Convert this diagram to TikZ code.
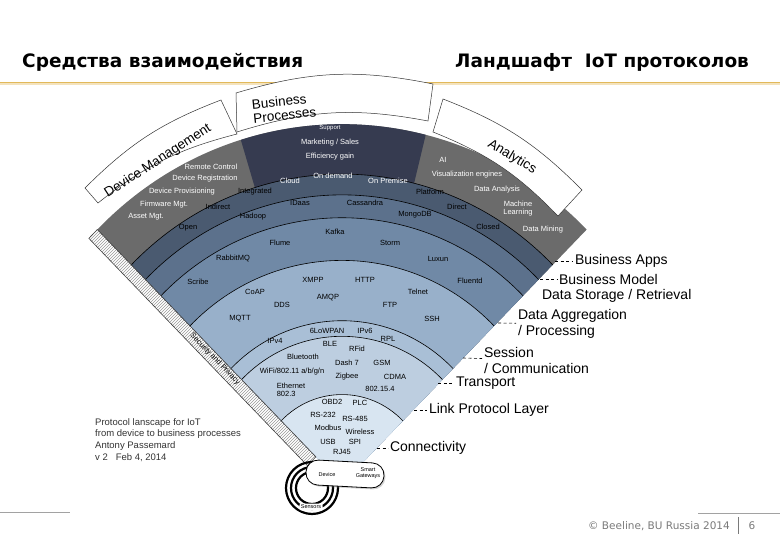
\documentclass[tikz,border=0pt]{standalone}
\usepackage{fontspec}
\setmainfont{Liberation Sans}
\newfontfamily\headfont{DejaVu Sans}
\usetikzlibrary{patterns,shadows}

\definecolor{bandgray}{HTML}{6B6B6B}
\definecolor{bandnavy}{HTML}{363B50}
\definecolor{bandmodel}{HTML}{4A5A70}
\definecolor{bandstore}{HTML}{5C718C}
\definecolor{bandaggr}{HTML}{7089A6}
\definecolor{bandsess}{HTML}{98B0CA}
\definecolor{bandtrans}{HTML}{A9BFD6}
\definecolor{bandlink}{HTML}{BDCEE0}
\definecolor{bandconn}{HTML}{D8E5F1}
\definecolor{titlegold}{HTML}{E2B95A}
\definecolor{footgray}{HTML}{7A7A7A}

\tikzset{
  headline/.style={font=\headfont\bfseries\fontsize{18.5}{21}\selectfont, inner sep=0pt},
  fantext/.style={font=\fontsize{7.5}{8}\selectfont, inner sep=0pt, align=center},
  lighttext/.style={fantext, text=white},
  tinytext/.style={fantext, font=\fontsize{5.5}{6}\selectfont},
  layer/.style={font=\fontsize{14}{16}\selectfont, inner sep=0pt, outer sep=2pt, align=left},
  leader/.style={dash pattern=on 3pt off 2.5pt, line width=0.6pt},
  ring/.style={line width=0.6pt},
  strip/.style={draw=black!75, line width=0.6pt, fill=white, pattern=north east lines, pattern color=black!40},
  labelbox/.style={draw=black!80, fill=white, line width=0.5pt},
  boxtext/.style={font=\fontsize{13.5}{14}\selectfont, inner sep=0pt, align=left},
  note/.style={font=\fontsize{9.5}{11.7}\selectfont, inner sep=0pt, align=left, text=black!80},
  foot/.style={font=\headfont\fontsize{10.5}{12}\selectfont, text=footgray, inner sep=0pt},
}

\begin{document}
\begin{tikzpicture}[x=1pt, y=-1pt]
\useasboundingbox (0,0) rectangle (780,540);

% header
\node[headline, anchor=base west] (title) at (22,68) {Средства взаимодействия};
\node[headline, anchor=base west] (subtitle) at (455,68) {Ландшафт\ \ IoT протоколов};
\draw[titlegold!40, line width=2pt] (0,84.5) -- (780,84.5);
\draw[titlegold, line width=1.5pt] (0,82.5) -- (780,82.5);

% fan, centred on the apex
\begin{scope}[shift={(342,484)}, yscale=-1.04]
  \foreach \r/\c in {346/bandgray, 298/bandmodel, 278/bandstore, 256/bandaggr,
                     215/bandsess, 157/bandtrans, 142/bandlink, 86/bandconn}
    \fill[\c] (0,0) -- (45:\r) arc[start angle=45, end angle=135, radius=\r] -- cycle;
  \fill[bandnavy] (76:298) arc[start angle=76, end angle=107, radius=298]
    -- (107:346) arc[start angle=107, end angle=76, radius=346] -- cycle;
  \foreach \r in {298, 278, 256, 215, 157, 142, 86}
    \draw[ring] (45:\r) arc[start angle=45, end angle=135, radius=\r];
  % security strip
  \draw[strip] (135:37) -- (135:346) -- ++(225:12) -- ++(-45:309) -- cycle;
\end{scope}
\node[fantext, rotate=-46] (security) at (215,359) {Security and Privacy};

% label boxes round the fan
\draw[labelbox] (98,203) to[bend left=12] (237,134) -- (221,100) to[bend right=12] (85,188) -- cycle;
\draw[labelbox] (237,132) to[bend left=14] (428,121) -- (433,84) to[bend right=14] (236,93) -- cycle;
\draw[labelbox] (433,132) to[bend left=12] (558,216) -- (582,190) to[bend right=12] (443,99) -- cycle;
\node[boxtext, rotate=33] (devmgmt) at (158,161) {Device Management};
\node[boxtext, rotate=6] (busproc) at (284,108) {Business\\Processes};
\node[boxtext, rotate=-31] (analytics) at (512,157) {Analytics};

% band entries
\foreach \n/\x/\y/\t in {remote/211/167/Remote Control, devreg/205/179/Device Registration,
    devprov/182/192/Device Provisioning, firmware/164/205/Firmware Mgt., asset/146/217/Asset Mgt.,
    marketing/330/143/{Marketing / Sales}, efficiency/330/157/Efficiency gain,
    ai/443/160/AI, visual/467/175/Visualization engines, analysis/497/190/Data Analysis,
    machine/518/209/{Machine\\Learning}, mining/543/230/Data Mining,
    cloud/290/181/Cloud, ondemand/333/176/On demand, onpremise/388/181/On Premise}
  \node[lighttext] (\n) at (\x,\y) {\t};
\node[lighttext, font=\fontsize{6}{7}\selectfont] (support) at (330,128) {Support};
\foreach \n/\x/\y/\t in {integrated/255/192/Integrated, indirect/218/207/Indirect, open/188/228/Open,
    platform/430/192/Platform, direct/457/207/Direct, closed/488/227/Closed,
    idaas/300/203/IDaas, cassandra/365/203/Cassandra, hadoop/253/217/Hadoop, mongodb/415/215/MongoDB,
    kafka/335/232/Kafka, flume/280/243/Flume, storm/390/243/Storm, rabbit/233/258/RabbitMQ,
    luxun/438/259/Luxun, scribe/198/282/Scribe, fluentd/470/281/Fluentd,
    xmpp/313/280/XMPP, http/365/280/HTTP, coap/255/292/CoAP, amqp/328/298/AMQP, telnet/418/292/Telnet,
    dds/282/305/DDS, ftp/390/305/FTP, mqtt/240/319/MQTT, ssh/432/319/SSH,
    lowpan/327/331/6LoWPAN, ipvsix/365/331/IPv6, ipvfour/275/341/IPv4, rpl/388/339/RPL,
    ble/330/344/BLE, rfid/357/349/RFid, bluetooth/303/357/Bluetooth, dash/347/363/Dash 7, gsm/382/363/GSM,
    wifi/292/372/{WiFi/802.11 a/b/g/n}, zigbee/347/377/Zigbee, cdma/395/377/CDMA, ieee/380/389/802.15.4,
    obd/332/402/OBD2, plc/360/403/PLC, rsa/323/415/RS-232, rsb/355/419/RS-485, modbus/328/428/Modbus,
    wireless/360/432/Wireless, usb/328/442/USB, spi/355/442/SPI, rj/342/452/RJ45}
  \node[fantext] (\n) at (\x,\y) {\t};
\node[fantext, align=left] (ethernet) at (291,390) {Ethernet\\802.3};

% device end
\foreach \r in {26,21,16}
  \draw[line width=2.2pt] (312,488) circle[radius=\r];
\fill[white] (312,488) circle[radius=13.5];
\node[tinytext, fill=white, inner sep=1.5pt, rounded corners=2pt] (sensors) at (311,507) {Sensors};
\node[draw, line width=0.8pt, fill=white, rounded corners=12pt, minimum width=78pt, minimum height=25pt,
      rotate=-3, drop shadow={opacity=0.35, shadow xshift=1.5pt, shadow yshift=-1.5pt}] (gateway) at (345,474) {};
\node[tinytext] (device) at (327,475) {Device};
\node[tinytext] (smartgw) at (368,473) {Smart\\Gateways};

% layer names on the right
\node[layer, anchor=west] (lapps) at (573,261) {Business Apps};
\node[layer, anchor=west] (lmodel) at (557,279) {Business Model};
\node[layer, anchor=west] (lstore) at (540,296) {Data Storage / Retrieval};
\node[layer, anchor=west] (laggr) at (516,324) {Data Aggregation\\/ Processing};
\node[layer, anchor=west] (lsess) at (482,360) {Session\\/ Communication};
\node[layer, anchor=west] (ltrans) at (454,383) {Transport};
\node[layer, anchor=west] (llink) at (427,410) {Link Protocol Layer};
\node[layer, anchor=west] (lconn) at (388,448) {Connectivity};
\coordinate (eapps) at (555,261);
\coordinate (emodel) at (540,279);
\coordinate (eaggr) at (498,323);
\coordinate (esess) at (463,358);
\coordinate (etrans) at (438,383);
\coordinate (elink) at (414,410);
\coordinate (econn) at (377,448);
\draw[leader] (eapps) -- (lapps);
\draw[leader] (emodel) -- (lmodel);
\draw[leader] (eaggr) -- (laggr);
\draw[leader] (esess) -- (lsess);
\draw[leader] (etrans) -- (ltrans);
\draw[leader] (elink) -- (llink);
\draw[leader] (econn) -- (lconn);

% notes
\node[note, anchor=north west] (credits) at (95,418)
  {Protocol lanscape for IoT\\from device to business processes\\Antony Passemard\\v 2\ \ \ Feb 4, 2014};

% footer
\draw[footgray!70, line width=0.7pt] (0,512) -- (70,512);
\draw[footgray!70, line width=0.7pt] (698,513) -- (780,513);
\node[foot, anchor=base east] (copy) at (730,529) {© Beeline, BU Russia 2014};
\node[foot, anchor=base] (page) at (752,529) {6};
\draw[footgray, line width=0.7pt] (738,517) -- (738,534);
\end{tikzpicture}
\end{document}
